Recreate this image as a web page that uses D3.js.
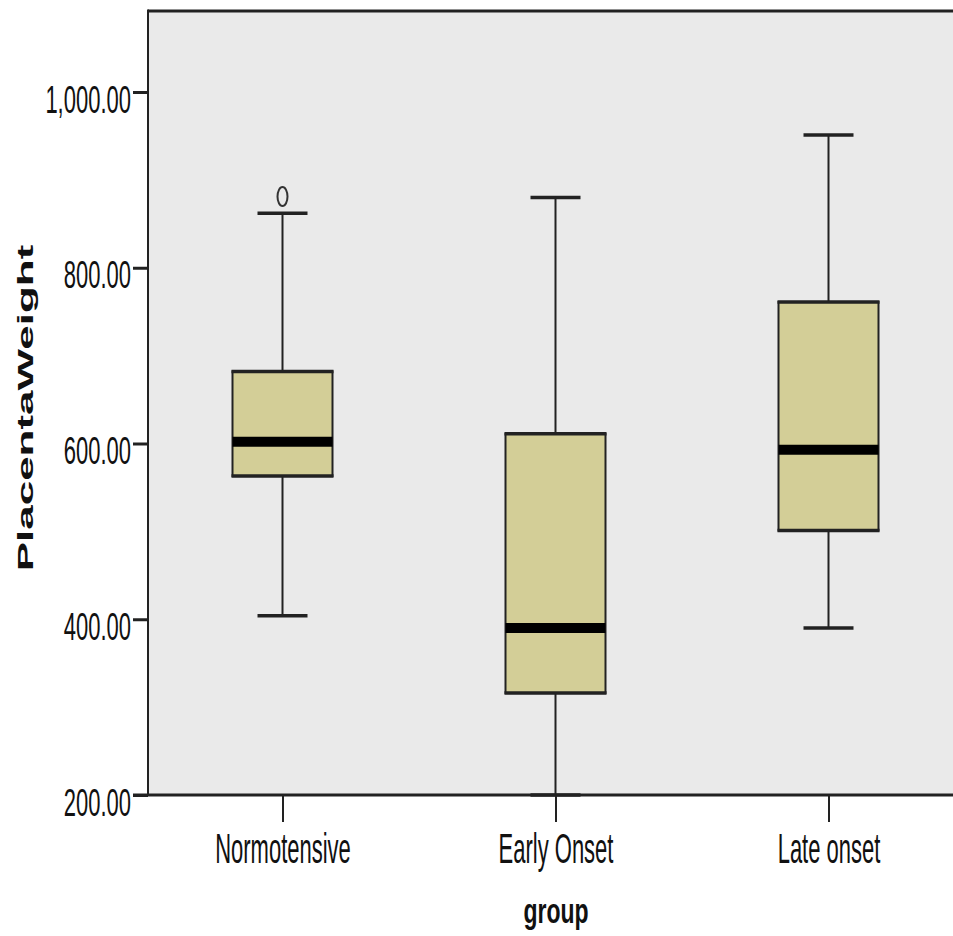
<!DOCTYPE html>
<html>
<head>
<meta charset="utf-8">
<script src="https://cdn.jsdelivr.net/npm/d3@7"></script>
<style>
  body { margin: 0; background: #fff; }
  svg { display: block; }
  text { font-family: "Liberation Sans", Arial, sans-serif; fill: #111; }
</style>
</head>
<body>
<div id="chart"></div>
<script>
// values (PlacentaWeight by group)
var groups = ["Normotensive", "Early Onset", "Late onset"];
var whiskerLow = [404, 200, 390];
var q1 = [563, 316, 501];
var median = [602, 390, 593];
var q3 = [682, 611, 761];
var whiskerHigh = [862, 880, 951];
var outliers = [[881], [], []];
var yTicks = [200, 400, 600, 800, 1000];

var W = 953, H = 936;
var plotLeft = 148, plotTop = 11, plotBottom = 795;

var svg = d3.select("#chart").append("svg")
  .attr("width", W)
  .attr("height", H);

var y = d3.scaleLinear().domain([200, 1000]).range([plotBottom, 92]);
var x = d3.scalePoint().domain(groups).range([146, 965]).padding(0.5);

var boxW = 100, capW = 50;

// plot background
svg.append("rect")
  .attr("x", plotLeft).attr("y", plotTop)
  .attr("width", W - plotLeft).attr("height", plotBottom - plotTop)
  .style("fill", "#eaeaea");

var data = groups.map(function(g, i){
  return {g: g, lo: whiskerLow[i], q1: q1[i], med: median[i], q3: q3[i], hi: whiskerHigh[i], out: outliers[i]};
});

var box = svg.selectAll(".box").data(data).enter().append("g")
  .attr("class", "box");

// whiskers
box.append("line")
  .attr("x1", function(d){ return x(d.g); }).attr("x2", function(d){ return x(d.g); })
  .attr("y1", function(d){ return y(d.hi); }).attr("y2", function(d){ return y(d.q3); })
  .style("stroke", "#222").style("stroke-width", 2);
box.append("line")
  .attr("x1", function(d){ return x(d.g); }).attr("x2", function(d){ return x(d.g); })
  .attr("y1", function(d){ return y(d.q1); }).attr("y2", function(d){ return y(d.lo); })
  .style("stroke", "#222").style("stroke-width", 2);

// caps
box.append("line")
  .attr("x1", function(d){ return x(d.g) - capW/2; }).attr("x2", function(d){ return x(d.g) + capW/2; })
  .attr("y1", function(d){ return y(d.hi); }).attr("y2", function(d){ return y(d.hi); })
  .style("stroke", "#222").style("stroke-width", 3.5);
box.append("line")
  .attr("x1", function(d){ return x(d.g) - capW/2; }).attr("x2", function(d){ return x(d.g) + capW/2; })
  .attr("y1", function(d){ return y(d.lo); }).attr("y2", function(d){ return y(d.lo); })
  .style("stroke", "#222").style("stroke-width", 3.5);

// box body
box.append("rect")
  .attr("x", function(d){ return x(d.g) - boxW/2; })
  .attr("y", function(d){ return y(d.q3); })
  .attr("width", boxW)
  .attr("height", function(d){ return y(d.q1) - y(d.q3); })
  .style("fill", "#d3ce97")
  .style("stroke", "#222").style("stroke-width", 2);
// thicker top / bottom edges
box.append("line")
  .attr("x1", function(d){ return x(d.g) - boxW/2 - 1; }).attr("x2", function(d){ return x(d.g) + boxW/2 + 1; })
  .attr("y1", function(d){ return y(d.q3); }).attr("y2", function(d){ return y(d.q3); })
  .style("stroke", "#222").style("stroke-width", 3.5);
box.append("line")
  .attr("x1", function(d){ return x(d.g) - boxW/2 - 1; }).attr("x2", function(d){ return x(d.g) + boxW/2 + 1; })
  .attr("y1", function(d){ return y(d.q1); }).attr("y2", function(d){ return y(d.q1); })
  .style("stroke", "#222").style("stroke-width", 3.5);

// median band
box.append("line")
  .attr("x1", function(d){ return x(d.g) - boxW/2; }).attr("x2", function(d){ return x(d.g) + boxW/2; })
  .attr("y1", function(d){ return y(d.med); }).attr("y2", function(d){ return y(d.med); })
  .style("stroke", "#000").style("stroke-width", 10);

// outliers
box.selectAll(".out").data(function(d){ return d.out.map(function(v){ return {g: d.g, v: v}; }); })
  .enter().append("ellipse")
  .attr("class", "out")
  .attr("cx", function(d){ return x(d.g); })
  .attr("cy", function(d){ return y(d.v); })
  .attr("rx", 5).attr("ry", 9.5)
  .style("fill", "none").style("stroke", "#333").style("stroke-width", 2);

// frame lines
svg.append("line").attr("x1", plotLeft).attr("x2", W).attr("y1", plotTop).attr("y2", plotTop)
  .style("stroke", "#222").style("stroke-width", 3);
svg.append("line").attr("x1", plotLeft).attr("x2", plotLeft).attr("y1", plotTop - 1.5).attr("y2", plotBottom)
  .style("stroke", "#222").style("stroke-width", 2);

// y axis
var yAxis = svg.append("g")
  .attr("transform", "translate(" + plotLeft + ",0)")
  .call(d3.axisLeft(y).tickValues(yTicks).tickSize(15).tickFormat(d3.format(",.2f")));
yAxis.select(".domain").remove();
yAxis.selectAll(".tick line").style("stroke", "#222").style("stroke-width", 3);
yAxis.selectAll(".tick text")
  .attr("x", null).attr("dy", null)
  .attr("transform", "translate(-17,20) scale(1,1.78)")
  .attr("text-anchor", "end")
  .style("font-size", "22px")
  .style("fill", "#111");

// x axis
var xAxis = svg.append("g")
  .attr("transform", "translate(0," + plotBottom + ")")
  .call(d3.axisBottom(x).tickSize(27));
xAxis.select(".domain").remove();
xAxis.selectAll(".tick line").style("stroke", "#222").style("stroke-width", 2);
xAxis.selectAll(".tick text")
  .attr("y", null).attr("dy", null)
  .attr("transform", "translate(0,68) scale(1,1.9)")
  .attr("text-anchor", "middle")
  .style("font-size", "22px")
  .style("fill", "#111");

svg.append("line").attr("x1", plotLeft - 15).attr("x2", W).attr("y1", plotBottom).attr("y2", plotBottom)
  .style("stroke", "#222").style("stroke-width", 3);

// axis titles
svg.append("text")
  .attr("transform", "translate(556,923) scale(1,1.55)")
  .attr("text-anchor", "middle")
  .style("font-size", "23px").style("font-weight", "bold")
  .text("group");

svg.append("text")
  .attr("transform", "translate(33,408) rotate(-90) scale(2,1)")
  .attr("text-anchor", "middle")
  .style("font-size", "22px").style("font-weight", "bold")
  .text("PlacentaWeight");
</script>
</body>
</html>
